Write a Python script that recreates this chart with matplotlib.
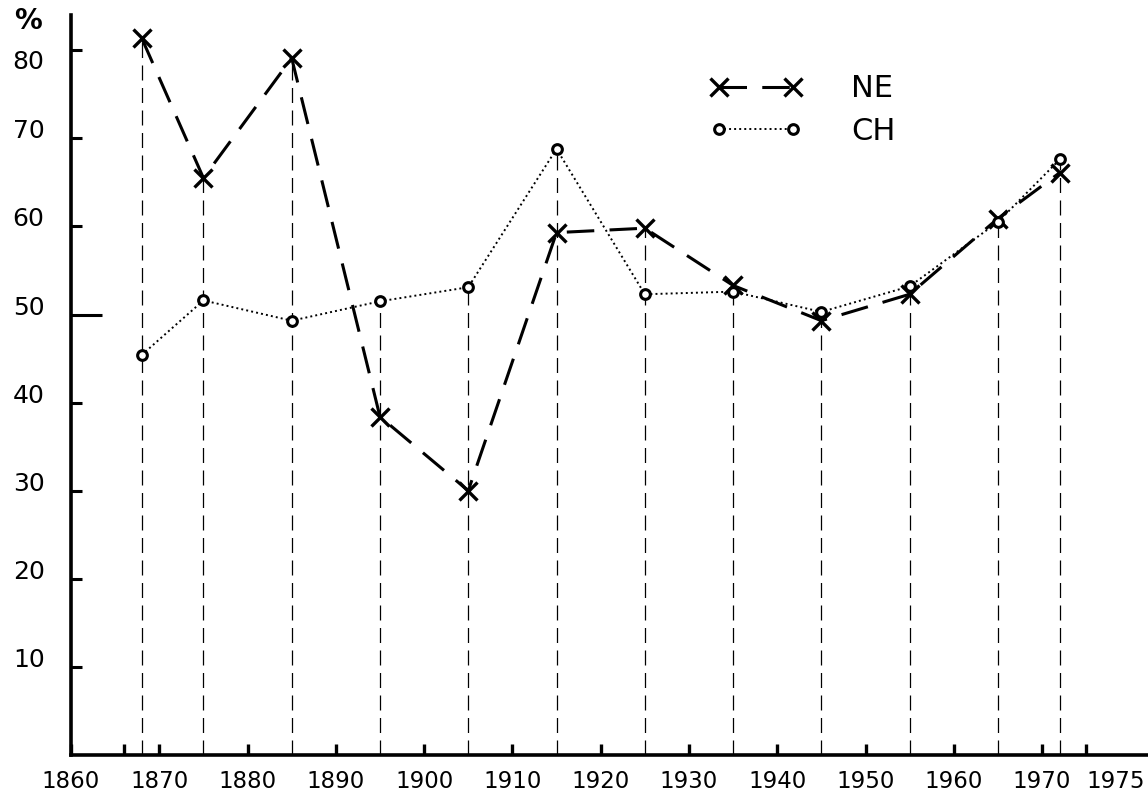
import numpy as np
import matplotlib.pyplot as plt

years = [1868, 1875, 1885, 1895, 1905, 1915, 1925, 1935, 1945, 1955, 1965, 1972]
ne = [81.4, 65.5, 79.1, 38.4, 30.0, 59.3, 59.8, 53.3, 49.3, 52.3, 60.9, 66.1]
ch = [45.4, 51.6, 49.3, 51.5, 53.1, 68.8, 52.3, 52.6, 50.3, 53.2, 60.5, 67.6]

x_ticks = [1860, 1870, 1880, 1890, 1900, 1910, 1920, 1930, 1940, 1950, 1960, 1970, 1975]
y_ticks = [10, 20, 30, 40, 50, 60, 70, 80]

plt.rcParams['font.family'] = ['DejaVu Sans']

fig = plt.figure(figsize=(11.48, 8.01), dpi=100)
ax = fig.add_axes([71 / 1148, 46 / 801, 1077 / 1148, 740 / 801])

# thin dashed drop lines from each point to the axis
for yr, a, b in zip(years, ne, ch):
    ax.plot([yr, yr], [0, max(a, b)], color='black', lw=0.9,
            dashes=(12, 6), zorder=1)

ax.plot(years, ne, color='black', lw=2.2, dashes=(9, 5),
        marker='x', ms=13, mew=2.4, label='NE', zorder=3)
ax.plot(years, ch, color='black', lw=1.4, linestyle=(0, (1, 1.6)),
        marker='o', ms=7, mew=2.2, mfc='white', label='CH', zorder=4)

ax.set_xlim(1860, 1982)
ax.set_ylim(0, 84)

for s in ['top', 'right']:
    ax.spines[s].set_visible(False)
for s in ['left', 'bottom']:
    ax.spines[s].set_linewidth(2.6)

ax.set_xticks(x_ticks)
ax.set_xticklabels([str(v) for v in x_ticks])
ax.set_xticks([1866], minor=True)
ax.tick_params(axis='x', which='both', direction='in', length=8, width=2.4,
               labelsize=16.5, pad=11)
# 1975 label sits to the right of its tick
ax.get_xticklabels()[-1].set_ha('left')

ax.set_yticks(y_ticks)
ax.set_yticklabels([str(v) for v in y_ticks])
ax.tick_params(axis='y', direction='in', length=8, width=2.2,
               labelsize=18, pad=19)
for lab in ax.get_yticklabels():
    lab.set_va('baseline')
ax.get_yticklabels()[-1].set_va('top')
# the 50 tick is drawn longer
ax.yaxis.get_major_ticks()[4].tick1line.set_markersize(22)

fig.text(14 / 1148, 1 - 21 / 801, '%', fontsize=20, fontweight='bold',
         va='center', ha='left')

leg = ax.legend(loc='upper left', bbox_to_anchor=(0.568, 0.957), frameon=False,
                fontsize=22, numpoints=2, handlelength=3.0, handletextpad=1.6,
                labelspacing=0.45)

fig.savefig('out.png', dpi=100)
